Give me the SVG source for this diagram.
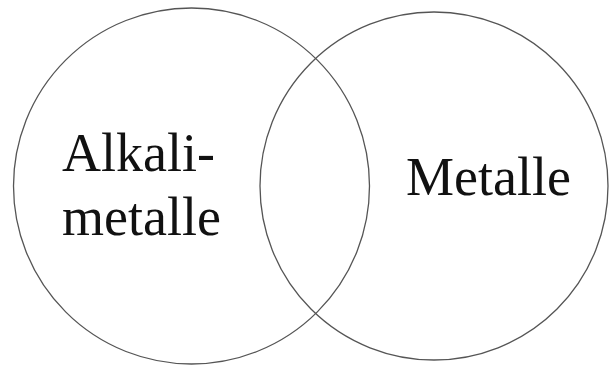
<svg xmlns="http://www.w3.org/2000/svg" width="609" height="365" viewBox="0 0 609 365">
<style>
.c{fill:none;stroke:#555;stroke-width:1.3}
.t{font-family:"Liberation Serif","Times New Roman",serif;font-size:54px;fill:#111}
</style>
<rect width="609" height="365" fill="#fff"/>
<g id="left">
<circle class="c" cx="191.5" cy="186" r="178"/>
<text class="t" x="62" y="171">Alkali-</text>
<text class="t" x="62" y="235">metalle</text>
</g>
<g id="right">
<circle class="c" cx="434" cy="186" r="174"/>
<text class="t" x="406" y="195">Metalle</text>
</g>
<g id="connectors"/>
</svg>
